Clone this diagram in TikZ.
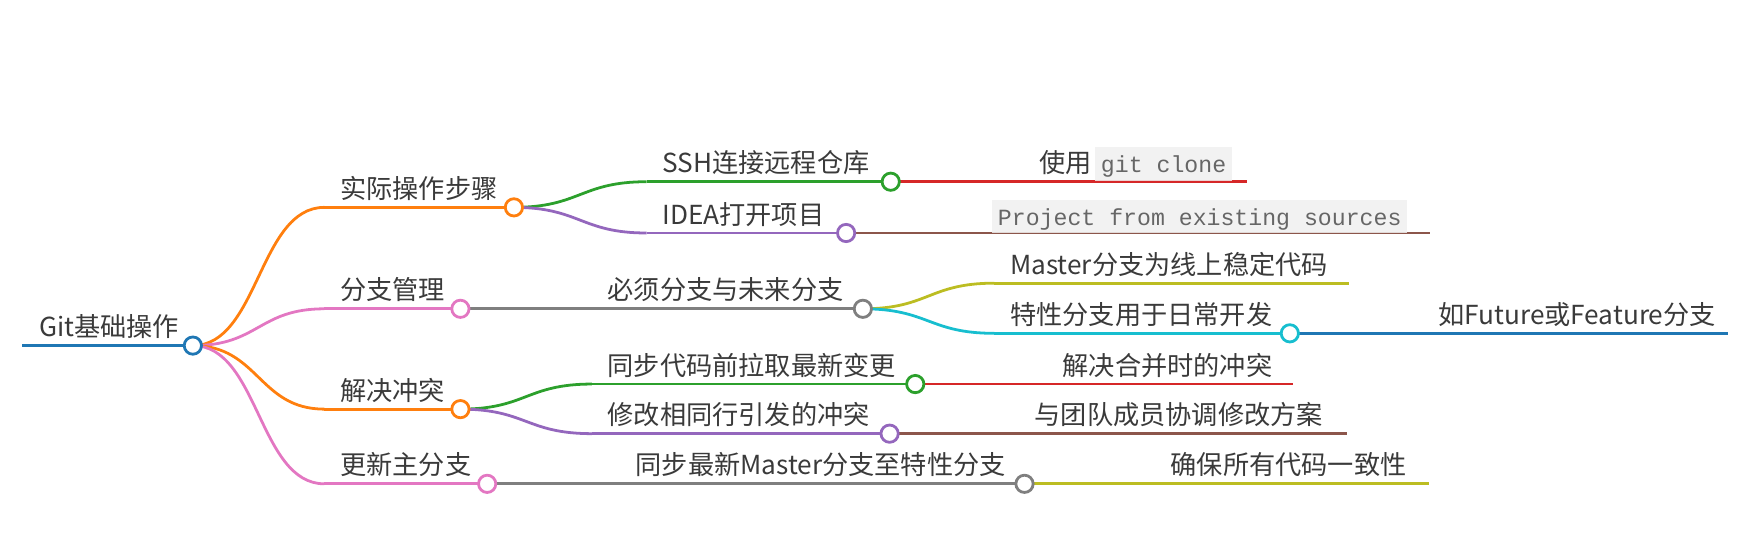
\documentclass[tikz,border=0pt]{standalone}
\usepackage{fontspec}
\setmainfont{Noto Sans CJK SC}
\newfontfamily\codefont{Liberation Mono}
\definecolor{cblue}{HTML}{1F77B4}
\definecolor{corange}{HTML}{FF7F0E}
\definecolor{cgreen}{HTML}{2CA02C}
\definecolor{cred}{HTML}{D62728}
\definecolor{cpurple}{HTML}{9467BD}
\definecolor{cbrown}{HTML}{8C564B}
\definecolor{cpink}{HTML}{E377C2}
\definecolor{cgray}{HTML}{7F7F7F}
\definecolor{colive}{HTML}{BCBD22}
\definecolor{ccyan}{HTML}{17BECF}
\definecolor{txt}{HTML}{3A3A3A}
\definecolor{codebg}{HTML}{F0F0F0}
\definecolor{codetxt}{HTML}{666666}
\tikzset{
  lnk/.style={line width=2.5pt},
  dot/.style={circle, draw=#1, fill=white, line width=2.5pt, minimum size=15.5pt, inner sep=0pt},
  lbl/.style={anchor=base west, inner sep=0pt, text=txt, font=\fontsize{23.5}{28}\selectfont},
  codebox/.style={anchor=base west, fill=codebg, fill opacity=0.85, text opacity=1, text=codetxt,
    font=\codefont\fontsize{20.8}{24}\selectfont, inner xsep=5pt, inner ysep=0pt,
    text height=23pt, text depth=7pt},
}
\newcommand\mmlink[3]{\draw[lnk,#1] (#2) .. controls +(59,0) and +(-59,0) .. (#3);}
\begin{document}
\begin{tikzpicture}[x=1pt,y=-1pt]
\useasboundingbox (0,0) rectangle (1568,493.4);

% ---- anchor coordinates (line starts / ends)
\coordinate (R-s) at (20,310);
\coordinate (A-s) at (291,186);
\coordinate (B-s) at (291,277);
\coordinate (C-s) at (291,367);
\coordinate (D-s) at (291,434);
\coordinate (A1-s) at (580,163);
\coordinate (A2-s) at (580,209);
\coordinate (B1-s) at (531,277);
\coordinate (C1-s) at (531,344.5);
\coordinate (C2-s) at (531,389);
\coordinate (D1-s) at (556,434);
\coordinate (A1a-s) at (918,163);   \coordinate (A1a-e) at (1119,163);
\coordinate (A2a-s) at (878,209);   \coordinate (A2a-e) at (1283,209);
\coordinate (B1a-s) at (892,254);   \coordinate (B1a-e) at (1210,254);
\coordinate (B1b-s) at (892,299);
\coordinate (C1a-s) at (941,344.5); \coordinate (C1a-e) at (1160,344.5);
\coordinate (C2a-s) at (917,389);   \coordinate (C2a-e) at (1208,389);
\coordinate (D1a-s) at (1038,434);  \coordinate (D1a-e) at (1282,434);
\coordinate (B1b1-s) at (1276,299); \coordinate (B1b1-e) at (1550,299);

% ---- circle positions
\coordinate (R-c) at (173,310);
\coordinate (A-c) at (461,186);
\coordinate (B-c) at (413,277);
\coordinate (C-c) at (413,367);
\coordinate (D-c) at (437,434);
\coordinate (A1-c) at (799,163);
\coordinate (A2-c) at (759,209);
\coordinate (B1-c) at (774,277);
\coordinate (C1-c) at (821,344.5);
\coordinate (C2-c) at (798,389);
\coordinate (D1-c) at (919,434);
\coordinate (B1b-c) at (1157,299);

% ---- horizontal underlines
\draw[lnk,cblue]   (R-s) -- (R-c);
\draw[lnk,corange] (A-s) -- (A-c);
\draw[lnk,cpink]   (B-s) -- (B-c);
\draw[lnk,corange] (C-s) -- (C-c);
\draw[lnk,cpink]   (D-s) -- (D-c);
\draw[lnk,cgreen]  (A1-s) -- (A1-c);
\draw[lnk,cpurple] (A2-s) -- (A2-c);
\draw[lnk,cgray]   (B1-s) -- (B1-c);
\draw[lnk,cgreen]  (C1-s) -- (C1-c);
\draw[lnk,cpurple] (C2-s) -- (C2-c);
\draw[lnk,cgray]   (D1-s) -- (D1-c);
\draw[lnk,cred]    (A1a-s) -- (A1a-e);
\draw[lnk,cbrown]  (A2a-s) -- (A2a-e);
\draw[lnk,colive]  (B1a-s) -- (B1a-e);
\draw[lnk,ccyan]   (B1b-s) -- (B1b-c);
\draw[lnk,cred]    (C1a-s) -- (C1a-e);
\draw[lnk,cbrown]  (C2a-s) -- (C2a-e);
\draw[lnk,colive]  (D1a-s) -- (D1a-e);
\draw[lnk,cblue]   (B1b1-s) -- (B1b1-e);

% ---- links
\mmlink{corange}{R-c}{A-s}
\mmlink{cpink}{R-c}{B-s}
\mmlink{corange}{R-c}{C-s}
\mmlink{cpink}{R-c}{D-s}
\mmlink{cgreen}{A-c}{A1-s}
\mmlink{cpurple}{A-c}{A2-s}
\mmlink{cgray}{B-c}{B1-s}
\mmlink{cgreen}{C-c}{C1-s}
\mmlink{cpurple}{C-c}{C2-s}
\mmlink{cgray}{D-c}{D1-s}
\mmlink{cred}{A1-c}{A1a-s}
\mmlink{cbrown}{A2-c}{A2a-s}
\mmlink{colive}{B1-c}{B1a-s}
\mmlink{ccyan}{B1-c}{B1b-s}
\mmlink{cred}{C1-c}{C1a-s}
\mmlink{cbrown}{C2-c}{C2a-s}
\mmlink{colive}{D1-c}{D1a-s}
\mmlink{cblue}{B1b-c}{B1b1-s}

% ---- circles
\node[dot=cblue]   (Rdot)  at (R-c) {};
\node[dot=corange] (Adot)  at (A-c) {};
\node[dot=cpink]   (Bdot)  at (B-c) {};
\node[dot=corange] (Cdot)  at (C-c) {};
\node[dot=cpink]   (Ddot)  at (D-c) {};
\node[dot=cgreen]  (A1dot) at (A1-c) {};
\node[dot=cpurple] (A2dot) at (A2-c) {};
\node[dot=cgray]   (B1dot) at (B1-c) {};
\node[dot=cgreen]  (C1dot) at (C1-c) {};
\node[dot=cpurple] (C2dot) at (C2-c) {};
\node[dot=cgray]   (D1dot) at (D1-c) {};
\node[dot=ccyan]   (B1bdot) at (B1b-c) {};

% ---- labels
\node[lbl] (Rt)  at (35,302) {Git基础操作};
\node[lbl] (At)  at (305,178) {实际操作步骤};
\node[lbl] (Bt)  at (305,269) {分支管理};
\node[lbl] (Ct)  at (305,359) {解决冲突};
\node[lbl] (Dt)  at (305,426) {更新主分支};
\node[lbl] (A1t) at (594,155) {SSH连接远程仓库};
\node[lbl] (A2t) at (594,201) {IDEA打开项目};
\node[lbl] (B1t) at (545,269) {必须分支与未来分支};
\node[lbl] (C1t) at (545,336.5) {同步代码前拉取最新变更};
\node[lbl] (C2t) at (545,381) {修改相同行引发的冲突};
\node[lbl] (D1t) at (570,426) {同步最新Master分支至特性分支};
\node[lbl] (A1at) at (932,155) {使用};
\node[codebox] (A1acode) at ([xshift=3pt]A1at.base east) {git clone};
\node[codebox] (A2acode) at (890,202) {Project from existing sources};
\node[lbl] (B1at) at (906,246) {Master分支为线上稳定代码};
\node[lbl] (B1bt) at (906,291) {特性分支用于日常开发};
\node[lbl] (C1at) at (953,336.5) {解决合并时的冲突};
\node[lbl] (C2at) at (928,381) {与团队成员协调修改方案};
\node[lbl] (D1at) at (1050,426) {确保所有代码一致性};
\node[lbl] (B1b1t) at (1290,291) {如Future或Feature分支};
\end{tikzpicture}
\end{document}
